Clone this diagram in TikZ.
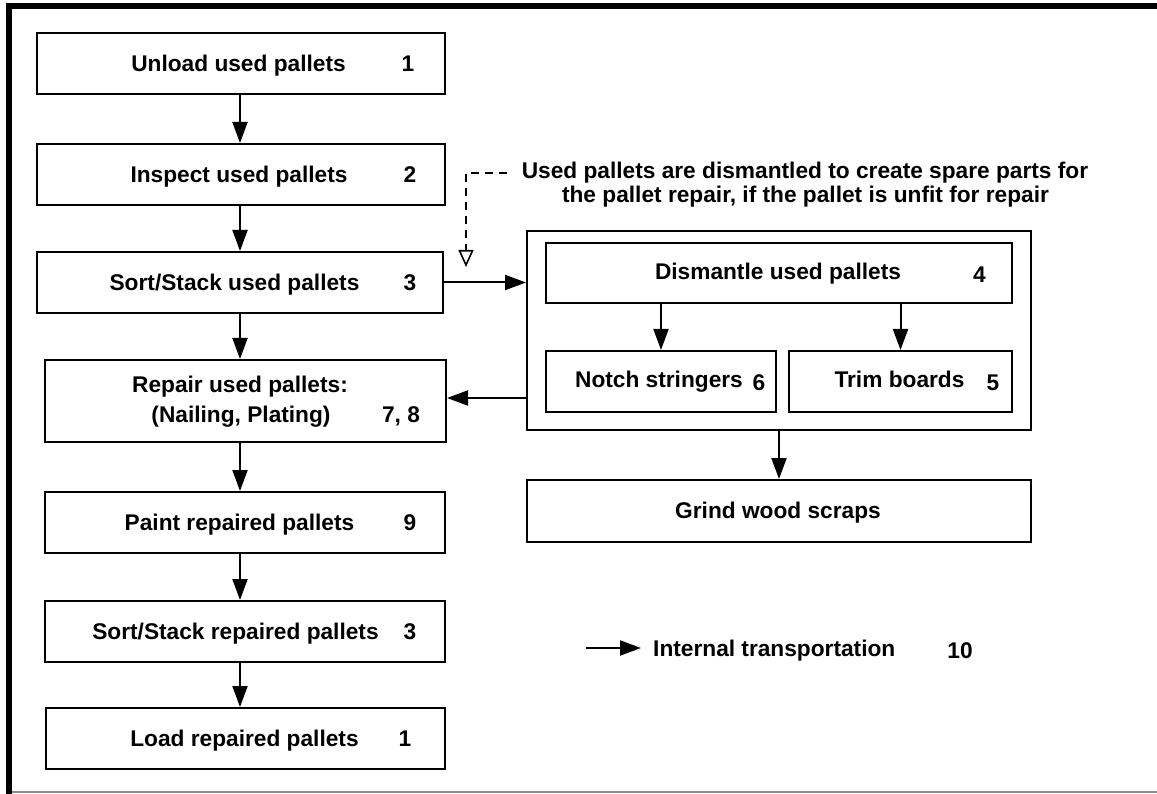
\documentclass[tikz,border=0pt]{standalone}
\usepackage{fontspec}
\setmainfont{Liberation Sans}
\usetikzlibrary{arrows.meta}
\newcommand\boxfont{\fontsize{22.7}{24}\selectfont\bfseries}
\begin{document}
\begin{tikzpicture}[x=1pt,y=-1pt,
  box/.style={draw=black, line width=2pt, rectangle, inner sep=0pt},
  lbl/.style={font=\boxfont, inner sep=0pt, anchor=base},
  arr/.style={line width=2pt, -{Triangle[length=21pt,width=15pt]}},
  darr/.style={line width=1.6pt, dash pattern=on 8pt off 6pt, -{Triangle[open,length=17pt,width=15pt,line width=1.6pt]}},
  frame/.style={line width=5.5pt, black},
  botline/.style={line width=2pt, color={rgb,255:red,140;green,140;blue,140}}
]
\useasboundingbox (0,0) rectangle (1157,794);
% frame
\draw[botline] (8,792) -- (1157,792);
\draw[frame] (8.8,794) -- (8.8,5.8) -- (1157,5.8);

% left column boxes
\node[box, minimum width=408pt, minimum height=61pt] (b1) at (241,63.5) {};
\node[box, minimum width=408pt, minimum height=61pt] (b2) at (241,174.5) {};
\node[box, minimum width=406pt, minimum height=61pt] (b3) at (240,282.5) {};
\node[box, minimum width=401pt, minimum height=82pt] (b4) at (245.5,401) {};
\node[box, minimum width=400pt, minimum height=61pt] (b5) at (245,522.5) {};
\node[box, minimum width=400pt, minimum height=61pt] (b6) at (245,631.5) {};
\node[box, minimum width=399pt, minimum height=61pt] (b7) at (245.5,738.5) {};

\node[lbl] (t1) at (238.5,71.5) {Unload used pallets};
\node[lbl] (t2) at (239,182.5) {Inspect used pallets};
\node[lbl] (t3) at (234.5,290.5) {Sort/Stack used pallets};
\node[lbl] (t4a) at (240,392) {Repair used pallets:};
\node[lbl] (t4b) at (241,422) {(Nailing, Plating)};
\node[lbl] (t5) at (239.5,530.5) {Paint repaired pallets};
\node[lbl] (t6) at (235.5,639.5) {Sort/Stack repaired pallets};
\node[lbl] (t7) at (244.5,746.5) {Load repaired pallets};

\node[lbl] (n1) at (408,71.5) {1};
\node[lbl] (n2) at (410,182.5) {2};
\node[lbl] (n3) at (410,290.5) {3};
\node[lbl] (n4) at (401,422) {7, 8};
\node[lbl] (n5) at (410,530.5) {9};
\node[lbl] (n6) at (410,639.5) {3};
\node[lbl] (n7) at (405,746.5) {1};

% left column arrows
\coordinate (ax) at (240,0);
\draw[arr] (b1.south -| ax) -- (b2.north -| ax);
\draw[arr] (b2.south -| ax) -- (b3.north -| ax);
\draw[arr] (b3.south -| ax) -- (b4.north -| ax);
\draw[arr] (b4.south -| ax) -- (b5.north -| ax);
\draw[arr] (b5.south -| ax) -- (b6.north -| ax);
\draw[arr] (b6.south -| ax) -- (b7.north -| ax);

% right group
\node[box, minimum width=504pt, minimum height=199pt] (outer) at (779,330.5) {};
\node[box, minimum width=466pt, minimum height=60pt] (dis) at (779,273) {};
\node[box, minimum width=230pt, minimum height=61pt] (notch) at (661,381.5) {};
\node[box, minimum width=223pt, minimum height=61pt] (trim) at (900.5,381.5) {};
\node[box, minimum width=504pt, minimum height=62pt] (grind) at (779,511) {};

\node[lbl] (tdis) at (778,280) {Dismantle used pallets};
\node[lbl] (ndis) at (979.5,283) {4};
\node[lbl] (tnotch) at (659,388) {Notch stringers};
\node[lbl] (nnotch) at (759,391) {6};
\node[lbl] (ttrim) at (899.5,388) {Trim boards};
\node[lbl] (ntrim) at (993,391) {5};
\node[lbl] (tgrind) at (778,518) {Grind wood scraps};

\draw[arr] (dis.south -| notch.north) -- (notch.north);
\draw[arr] (dis.south -| trim.north) -- (trim.north);
\draw[arr] (outer.south) -- (grind.north);
\draw[arr] (b3.east) -- (b3.east -| outer.west);
\coordinate (ry) at (0,398);
\draw[arr] (outer.west |- ry) -- (b4.east |- ry);

% note
\node[lbl] (note1) at (805,179) {Used pallets are dismantled to create spare parts for};
\node[lbl] (note2) at (805.5,203) {the pallet repair, if the pallet is unfit for repair};
\coordinate (dstart) at (507,173);
\coordinate (dcorner) at (466,173);
\coordinate (dend) at (466,267);
\draw[darr] (dstart) -- (dcorner) -- (dend);

% legend
\coordinate (lg1) at (586,648);
\coordinate (lg2) at (641,648);
\draw[arr] (lg1) -- (lg2);
\node[lbl, anchor=base west] (tleg) at (653,656) {Internal transportation};
\node[lbl] (nleg) at (960,658) {10};
\end{tikzpicture}
\end{document}
